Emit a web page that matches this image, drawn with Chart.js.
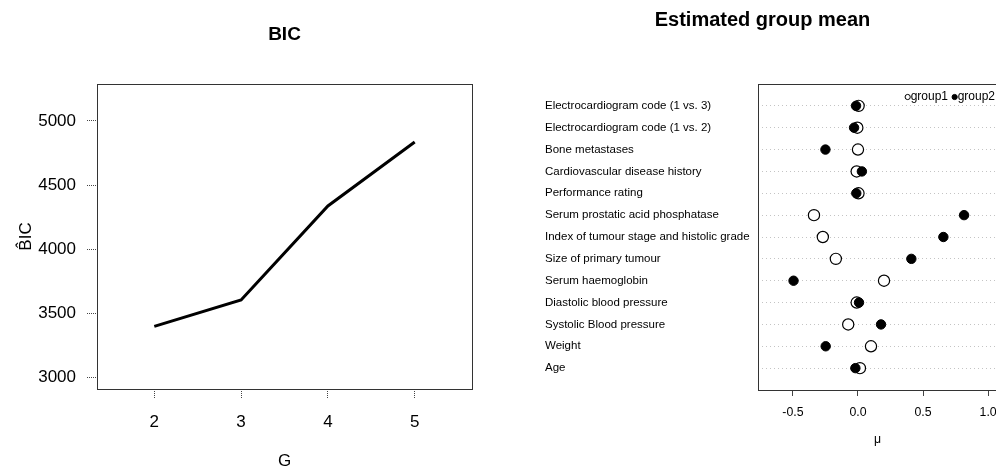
<!DOCTYPE html>
<html>
<head>
<meta charset="utf-8"/>
<script src="https://cdn.jsdelivr.net/npm/chart.js@4.4.1/dist/chart.umd.min.js"></script>
<style>
  body { margin: 0; width: 996px; height: 468px; overflow: hidden; background: #fff; position: relative; }
  #bic { position: absolute; left: 0; top: 0; }
  #mean { position: absolute; left: 500px; top: 0; }
</style>
</head>
<body>
<canvas id="bic" width="500" height="468"></canvas>
<canvas id="mean" width="510" height="468"></canvas>
<script>
// left panel: BIC against number of groups
var gValues = [2, 3, 4, 5];
var bicValues = [3400, 3605, 4338, 4836];
var bicTicks = [3000, 3500, 4000, 4500, 5000];

// right panel: estimated group means, top row first
var variables = [
  'Electrocardiogram code (1 vs. 3)',
  'Electrocardiogram code (1 vs. 2)',
  'Bone metastases',
  'Cardiovascular disease history',
  'Performance rating',
  'Serum prostatic acid phosphatase',
  'Index of tumour stage and histolic grade',
  'Size of primary tumour',
  'Serum haemoglobin',
  'Diastolic blood pressure',
  'Systolic Blood pressure',
  'Weight',
  'Age'
];
var group1 = [0.005, -0.005, 0.0, -0.01, 0.004, -0.338, -0.27, -0.17, 0.2, -0.01, -0.075, 0.1, 0.015];
var group2 = [-0.015, -0.03, -0.25, 0.03, -0.013, 0.815, 0.656, 0.41, -0.495, 0.008, 0.177, -0.248, -0.02];
var muTicks = [-0.5, 0, 0.5, 1.0];

Chart.defaults.font.family = "'Liberation Sans', Arial, Helvetica, sans-serif";
Chart.defaults.color = '#000';

function fixTicks(values) {
  return function(scale) {
    scale.ticks = values.map(function(v) { return {value: v}; });
  };
}

// box round the plotting region
var framePlugin = {
  id: 'frame',
  beforeDatasetsDraw: function(chart) {
    var a = chart.chartArea, ctx = chart.ctx;
    ctx.save();
    ctx.strokeStyle = '#333';
    ctx.lineWidth = 1;
    ctx.strokeRect(Math.round(a.left) + 0.5, Math.round(a.top) + 0.5,
      Math.round(a.right - a.left), Math.round(a.bottom - a.top));
    ctx.restore();
  }
};

// title of the right panel is not centred on its plot
var panelTitle = {
  id: 'panelTitle',
  afterDraw: function(chart, args, opts) {
    var ctx = chart.ctx;
    ctx.save();
    ctx.font = 'bold ' + opts.size + 'px ' + Chart.defaults.font.family;
    ctx.fillStyle = '#000';
    ctx.textAlign = 'center';
    ctx.textBaseline = 'middle';
    ctx.fillText(opts.text, opts.x, opts.y);
    ctx.restore();
  }
};

// legend inside the top right corner
var innerLegend = {
  id: 'innerLegend',
  afterDatasetsDraw: function(chart, args, opts) {
    var ctx = chart.ctx, a = chart.chartArea;
    var sets = chart.data.datasets;
    var x = a.right - opts.right;
    var y = a.top + opts.top;
    ctx.save();
    ctx.font = opts.size + 'px ' + Chart.defaults.font.family;
    ctx.textBaseline = 'middle';
    ctx.textAlign = 'left';
    for (var i = sets.length - 1; i >= 0; i--) {
      var w = ctx.measureText(sets[i].label).width;
      x -= w;
      ctx.fillStyle = '#000';
      ctx.fillText(sets[i].label, x, y);
      x -= opts.gap;
      ctx.beginPath();
      ctx.arc(x, y, opts.r, 0, Math.PI * 2);
      ctx.fillStyle = sets[i].backgroundColor;
      ctx.fill();
      ctx.strokeStyle = sets[i].borderColor;
      ctx.lineWidth = 1;
      ctx.stroke();
      x -= opts.r + opts.space;
    }
    ctx.restore();
  }
};

new Chart(document.getElementById('bic'), {
  type: 'line',
  data: {
    datasets: [{
      data: gValues.map(function(g, i) { return {x: g, y: bicValues[i]}; }),
      borderColor: '#000',
      borderWidth: 3,
      pointRadius: 0,
      tension: 0,
      fill: false
    }]
  },
  options: {
    responsive: false,
    animation: false,
    layout: {padding: {top: 0, left: 0, right: 28, bottom: 0}},
    plugins: {
      legend: {display: false},
      tooltip: {enabled: false},
      title: {
        display: true, text: 'BIC', fullSize: false, color: '#000',
        font: {size: 19, weight: 'bold'},
        padding: {top: 23.6, bottom: 37.6}
      }
    },
    scales: {
      x: {
        type: 'linear', min: 1.34, max: 5.66,
        afterBuildTicks: fixTicks(gValues),
        afterFit: function(s) { s.height = 79; },
        grid: {drawOnChartArea: false, tickLength: 9, tickColor: '#444', tickWidth: 1, tickBorderDash: [1, 1]},
        border: {display: false},
        ticks: {font: {size: 17}, padding: 14, autoSkip: false, maxRotation: 0,
          callback: function(v) { return String(v); }},
        title: {display: true, text: 'G', font: {size: 17}, padding: {top: 0, bottom: -4}}
      },
      y: {
        type: 'linear', min: 2912, max: 5288,
        afterBuildTicks: fixTicks(bicTicks),
        afterFit: function(s) { s.width = 97; },
        grid: {drawOnChartArea: false, tickLength: 10, tickColor: '#444', tickWidth: 1, tickBorderDash: [1, 1]},
        border: {display: false},
        ticks: {font: {size: 17}, padding: 11, autoSkip: false,
          callback: function(v) { return String(v); }},
        title: {display: true, text: 'B\u0302IC', font: {size: 17}, padding: {top: 16, bottom: 0}}
      }
    }
  },
  plugins: [framePlugin]
});

new Chart(document.getElementById('mean'), {
  type: 'scatter',
  data: {
    datasets: [{
      label: 'group1',
      data: group1.map(function(v, i) { return {x: v, y: i + 1}; }),
      pointStyle: 'circle', pointRadius: 5.6, borderWidth: 1.2,
      borderColor: '#000', backgroundColor: '#fff', order: 1
    }, {
      label: 'group2',
      data: group2.map(function(v, i) { return {x: v, y: i + 1}; }),
      pointStyle: 'circle', pointRadius: 4.7, borderWidth: 1,
      borderColor: '#000', backgroundColor: '#000', order: 0
    }]
  },
  options: {
    responsive: false,
    animation: false,
    layout: {padding: {top: 84, left: 45, right: 13, bottom: 0}},
    plugins: {
      legend: {display: false},
      tooltip: {enabled: false},
      panelTitle: {text: 'Estimated group mean', size: 20, x: 262.5, y: 20},
      innerLegend: {size: 12, right: 2, top: 13, gap: 3, r: 2.6, space: 4}
    },
    scales: {
      x: {
        type: 'linear', min: -0.768, max: 1.068,
        afterBuildTicks: fixTicks(muTicks),
        afterFit: function(s) { s.height = 78; },
        grid: {drawOnChartArea: false, tickLength: 6, tickColor: '#444', tickWidth: 1},
        border: {display: false},
        ticks: {font: {size: 12.3}, padding: 9.5, autoSkip: false, maxRotation: 0,
          callback: function(v) { return v.toFixed(1); }},
        title: {display: true, text: 'μ', font: {size: 12.3}, padding: {top: 0, bottom: 21}}
      },
      y: {
        type: 'linear', reverse: true, min: 0, max: 14,
        afterBuildTicks: fixTicks(variables.map(function(v, i) { return i + 1; })),
        afterFit: function(s) { s.width = 213; },
        grid: {drawTicks: false, color: '#c4c4c4', lineWidth: 1},
        border: {display: false, dash: [1, 3]},
        ticks: {font: {size: 11.5}, crossAlign: 'far', autoSkip: false,
          callback: function(v) { return variables[v - 1]; }}
      }
    }
  },
  plugins: [framePlugin, panelTitle, innerLegend]
});
</script>
</body>
</html>
